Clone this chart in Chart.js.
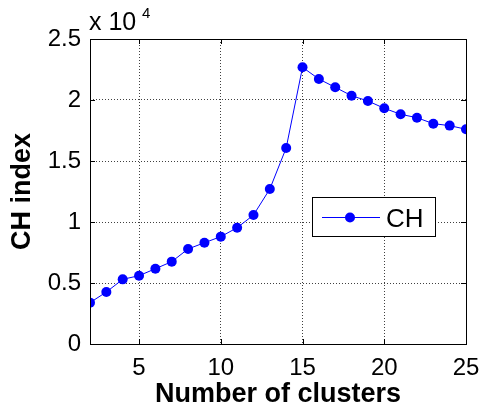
<!DOCTYPE html>
<html>
<head>
<meta charset="utf-8">
<script src="https://cdn.jsdelivr.net/npm/chart.js@4.4.1/dist/chart.umd.min.js"></script>
<style>
html,body{margin:0;padding:0;background:#fff;}
canvas{display:block;}
</style>
</head>
<body>
<canvas id="c" width="480" height="411"></canvas>
<script>
// ---- data ----
const clusters = [2,3,4,5,6,7,8,9,10,11,12,13,14,15,16,17,18,19,20,21,22,23,24,25];
const chIndex = [3390,4260,5300,5600,6170,6750,7790,8300,8800,9530,10570,12700,16070,22680,21720,21040,20350,19920,19320,18830,18550,18060,17900,17600];
const xTicks = [5,10,15,20,25];
const yTicks = [0,5000,10000,15000,20000,25000];
const seriesName = 'CH';
const xTitle = 'Number of clusters';
const yTitle = 'CH index';
const exponentText = 'x 10';
const exponentPower = '4';

const FONT = 'Liberation Sans, Arial, Helvetica, sans-serif';

const framePlugin = {
  id: 'frame',
  afterDraw(chart) {
    const ctx = chart.ctx;
    const a = chart.chartArea;
    const xs = chart.scales.x, ys = chart.scales.y;
    ctx.save();
    // box
    ctx.strokeStyle = '#000';
    ctx.lineWidth = 1;
    ctx.setLineDash([]);
    ctx.strokeRect(Math.round(a.left)+0.5, Math.round(a.top)+0.5, Math.round(a.right-a.left), Math.round(a.bottom-a.top));
    // inward ticks
    const tl = 5;
    ctx.beginPath();
    xTicks.forEach(v => {
      const px = Math.round(xs.getPixelForValue(v)) + 0.5;
      ctx.moveTo(px, a.bottom); ctx.lineTo(px, a.bottom - tl);
      ctx.moveTo(px, a.top); ctx.lineTo(px, a.top + tl);
    });
    yTicks.forEach(v => {
      const py = Math.round(ys.getPixelForValue(v)) + 0.5;
      ctx.moveTo(a.left, py); ctx.lineTo(a.left + tl, py);
      ctx.moveTo(a.right, py); ctx.lineTo(a.right - tl, py);
    });
    ctx.stroke();
    // exponent label
    ctx.fillStyle = '#000';
    ctx.textBaseline = 'alphabetic';
    ctx.textAlign = 'left';
    ctx.font = '25px ' + FONT;
    ctx.fillText(exponentText, a.left - 1, a.top - 9);
    ctx.font = '15px ' + FONT;
    ctx.fillText(exponentPower, a.left + 52, a.top - 21);
    // legend
    const ds = chart.data.datasets[0];
    const bx = a.right - 154, by = a.top + 158, bw = 123, bh = 39;
    ctx.fillStyle = '#fff';
    ctx.fillRect(bx, by, bw, bh);
    ctx.strokeStyle = '#000';
    ctx.lineWidth = 1;
    ctx.strokeRect(Math.round(bx)+0.5, Math.round(by)+0.5, bw, bh);
    const ly = Math.round(by + 20) + 0.5;
    ctx.strokeStyle = ds.borderColor;
    ctx.beginPath();
    ctx.moveTo(bx + 10, ly); ctx.lineTo(bx + 68, ly);
    ctx.stroke();
    ctx.fillStyle = ds.pointBackgroundColor;
    ctx.beginPath();
    ctx.arc(bx + 38, ly, 5, 0, Math.PI*2);
    ctx.fill();
    ctx.fillStyle = '#000';
    ctx.font = '26px ' + FONT;
    ctx.textBaseline = 'alphabetic';
    ctx.fillText(ds.label, bx + 74, by + 30);
    ctx.restore();
  }
};

new Chart(document.getElementById('c'), {
  type: 'line',
  data: {
    datasets: [{
      label: seriesName,
      data: clusters.map((x, i) => ({x: x, y: chIndex[i]})),
      borderColor: '#0000ff',
      backgroundColor: '#0000ff',
      pointBackgroundColor: '#0000ff',
      pointBorderColor: '#0000ff',
      pointRadius: 5,
      pointBorderWidth: 0,
      borderWidth: 1,
      tension: 0,
      fill: false
    }]
  },
  options: {
    responsive: false,
    animation: false,
    events: [],
    layout: { padding: { top: 39, right: 14, left: 0, bottom: 0 } },
    plugins: { legend: { display: false }, tooltip: { enabled: false } },
    scales: {
      x: {
        type: 'linear',
        min: 2, max: 25,
        afterBuildTicks: s => { s.ticks = xTicks.map(v => ({value: v})); },
        afterFit: s => { s.height = 67; s.paddingLeft = 0; s.paddingRight = 0; },
        grid: {
          drawTicks: false,
          color: ctx => (ctx.tick && (ctx.tick.value === 25 || ctx.tick.value === 2)) ? 'rgba(0,0,0,0)' : 'rgba(0,0,0,0.75)',
          lineWidth: 1
        },
        border: { display: false, dash: [1,2] },
        ticks: { color: '#000', font: { family: FONT, size: 24 }, padding: 10, maxRotation: 0, autoSkip: false },
        title: { display: true, text: xTitle, color: '#000', font: { family: FONT, size: 27, weight: 'bold', lineHeight: 1 }, padding: { top: 0, bottom: 3 } }
      },
      y: {
        min: 0, max: 25000,
        afterBuildTicks: s => { s.ticks = yTicks.map(v => ({value: v})); },
        afterFit: s => { s.width = 90; s.paddingTop = 0; s.paddingBottom = 0; },
        grid: {
          drawTicks: false,
          color: ctx => (ctx.tick && (ctx.tick.value === 0 || ctx.tick.value === 25000)) ? 'rgba(0,0,0,0)' : 'rgba(0,0,0,0.75)',
          lineWidth: 1
        },
        border: { display: false, dash: [1,2] },
        ticks: { color: '#000', font: { family: FONT, size: 24 }, padding: 9, callback: v => String(v / 10000) },
        title: { display: true, text: yTitle, color: '#000', font: { family: FONT, size: 27, weight: 'bold', lineHeight: 1 }, padding: { top: 9, bottom: 0 } }
      }
    }
  },
  plugins: [framePlugin]
});
</script>
</body>
</html>
